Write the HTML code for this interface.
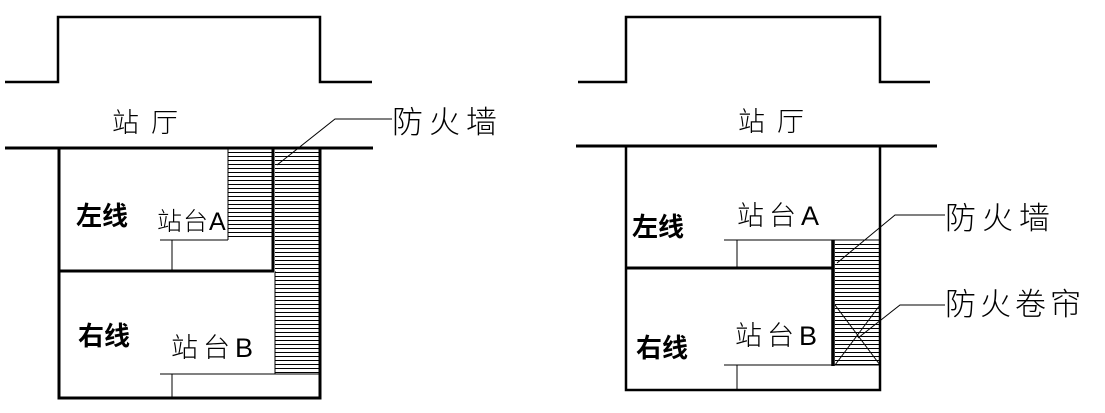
<!DOCTYPE html>
<html><head><meta charset="utf-8"><style>
html,body{margin:0;padding:0;background:#fff;width:1105px;height:413px;overflow:hidden}
text{font-family:"Liberation Sans","Noto Sans CJK SC",sans-serif;fill:#000}
.t{font-size:27px;font-weight:300;letter-spacing:5px}
.b{font-size:26px;font-weight:bold}
</style></head><body>
<svg width="1105" height="413" viewBox="0 0 1105 413" xmlns="http://www.w3.org/2000/svg">
<defs>
<pattern id="h" width="10" height="4" patternUnits="userSpaceOnUse">
<rect width="10" height="4" fill="#fff"/><line x1="0" y1="0.5" x2="10" y2="0.5" stroke="#000" stroke-width="1"/>
</pattern>
</defs>
<g fill="none" stroke="#000">
<polyline points="5,82 58,82 58,17 320,17 320,82 372,82" stroke-width="2.5"/>
<line x1="5" y1="148" x2="373" y2="148" stroke-width="3"/>
<rect x="228" y="149" width="44" height="91" fill="url(#h)" stroke="none"/>
<rect x="275" y="149" width="45" height="225" fill="url(#h)" stroke="none"/>
<line x1="228" y1="149" x2="228" y2="240" stroke-width="1"/>
<rect x="59" y="148" width="261" height="250" stroke-width="3"/>
<line x1="59" y1="271" x2="274" y2="271" stroke-width="3"/>
<line x1="273" y1="148" x2="273" y2="271" stroke-width="3"/>
<line x1="160" y1="240" x2="228" y2="240" stroke-width="1"/>
<line x1="172" y1="240" x2="172" y2="271" stroke-width="1"/>
<line x1="160" y1="374" x2="320" y2="374" stroke-width="1"/>
<line x1="172" y1="374" x2="172" y2="398" stroke-width="1"/>
<line x1="275" y1="271" x2="275" y2="374" stroke-width="1"/>
<polyline points="277,165 335,119 392,119" stroke-width="1"/>
<polyline points="578,82 626,82 626,17 880,17 880,82 930,82" stroke-width="2.5"/>
<line x1="576" y1="146" x2="937" y2="146" stroke-width="3"/>
<rect x="835" y="241" width="45" height="124" fill="url(#h)" stroke="none"/>
<line x1="835" y1="305" x2="880" y2="365" stroke-width="1"/>
<line x1="880" y1="305" x2="835" y2="365" stroke-width="1"/>
<rect x="626" y="146" width="254" height="244" stroke-width="2.5"/>
<line x1="626" y1="268" x2="833" y2="268" stroke-width="3"/>
<line x1="833" y1="240" x2="833" y2="366" stroke-width="3.5"/>
<line x1="724" y1="240" x2="880" y2="240" stroke-width="1"/>
<line x1="737" y1="240" x2="737" y2="268" stroke-width="1"/>
<line x1="724" y1="365" x2="880" y2="365" stroke-width="1"/>
<line x1="737" y1="365" x2="737" y2="390" stroke-width="1"/>
<polyline points="837,263 895,215 945,215" stroke-width="1"/>
<polyline points="858,338 900,305 945,305" stroke-width="1"/>
</g>
<text class="t" x="112" y="132" style="letter-spacing:12px">站厅</text>
<text class="t" x="392" y="133" style="font-size:31px;letter-spacing:6px">防火墙</text>
<text class="b" x="76" y="225">左线</text>
<text class="t" x="157" y="230" style="font-size:25px;letter-spacing:1px">站台A</text>
<text class="b" x="78" y="345">右线</text>
<text class="t" x="171" y="357">站台B</text>
<text class="t" x="738" y="131" style="letter-spacing:12px">站厅</text>
<text class="t" x="945" y="229" style="font-size:31px;letter-spacing:6px">防火墙</text>
<text class="t" x="945" y="315" style="font-size:31px;letter-spacing:4px">防火卷帘</text>
<text class="b" x="632" y="236">左线</text>
<text class="t" x="737" y="225">站台A</text>
<text class="b" x="636" y="357">右线</text>
<text class="t" x="735" y="345">站台B</text>
</svg>
</body></html>
